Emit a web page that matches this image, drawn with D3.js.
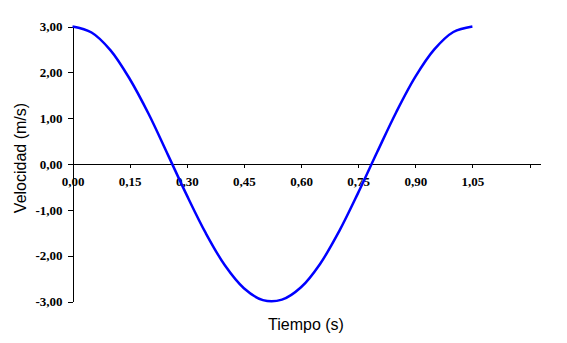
<!DOCTYPE html>
<html>
<head>
<meta charset="utf-8">
<script src="https://cdn.jsdelivr.net/npm/d3@7"></script>
<style>
  body { margin: 0; background: #fff; }
  .axis path, .axis line { stroke: #000; shape-rendering: crispEdges; }
  .axis text { font-family: "Liberation Serif", serif; font-weight: bold; font-size: 13px; fill: #000; }
  .title { font-family: "Liberation Sans", Arial, sans-serif; font-size: 16px; fill: #000; }
</style>
</head>
<body>
<svg id="chart" width="567" height="343"></svg>
<script>
// tiempo (s) y velocidad (m/s)
var tiempo = [0, 0.05, 0.10, 0.15, 0.20, 0.25, 0.30, 0.35, 0.40, 0.45, 0.50,
              0.55, 0.60, 0.65, 0.70, 0.75, 0.80, 0.85, 0.90, 0.95, 1.00, 1.05];
var velocidad = [3.00, 2.87, 2.48, 1.86, 1.09, 0.21, -0.68, -1.51, -2.21, -2.71, -2.97,
                 -2.96, -2.69, -2.18, -1.47, -0.63, 0.26, 1.13, 1.90, 2.50, 2.88, 3.00];
var xTicks = [0, 0.15, 0.30, 0.45, 0.60, 0.75, 0.90, 1.05, 1.20];
var xLabels = ["0,00", "0,15", "0,30", "0,45", "0,60", "0,75", "0,90", "1,05", ""];
var yTicks = [-3, -2, -1, 0, 1, 2, 3];
var yLabels = ["-3,00", "-2,00", "-1,00", "0,00", "1,00", "2,00", "3,00"];

var svg = d3.select("#chart");

var x = d3.scaleLinear()
    .domain([0, 1.2275])
    .range([72.5, 540]);

var y = d3.scaleLinear()
    .domain([-3, 3])
    .range([301.5, 26.5]);

var data = tiempo.map(function(t, i) { return {t: t, v: velocidad[i]}; });

// eje x cruzando en 0
svg.append("g")
    .attr("class", "axis axis--x")
    .attr("transform", "translate(0," + y(0) + ")")
    .call(d3.axisBottom(x)
      .tickValues(xTicks)
      .tickSize(4)
      .tickSizeOuter(0)
      .tickPadding(9)
      .tickFormat(function(d, i) { return xLabels[i]; }));

svg.append("g")
    .attr("class", "axis axis--y")
    .attr("transform", "translate(" + x(0) + ",0)")
    .call(d3.axisLeft(y)
      .tickValues(yTicks)
      .tickSize(5)
      .tickSizeOuter(0)
      .tickPadding(5)
      .tickFormat(function(d, i) { return yLabels[i]; }));

var line = d3.line()
    .x(function(d) { return x(d.t); })
    .y(function(d) { return y(d.v); })
    .curve(d3.curveCatmullRom);

svg.append("path")
    .datum(data)
    .attr("fill", "none")
    .attr("stroke", "#0000ff")
    .attr("stroke-width", 2.5)
    .attr("d", line);

svg.append("text")
    .attr("class", "title")
    .attr("x", 306)
    .attr("y", 330)
    .attr("text-anchor", "middle")
    .text("Tiempo (s)");

svg.append("text")
    .attr("class", "title")
    .attr("transform", "translate(25.5,158) rotate(-90)")
    .attr("text-anchor", "middle")
    .text("Velocidad (m/s)");
</script>
</body>
</html>
